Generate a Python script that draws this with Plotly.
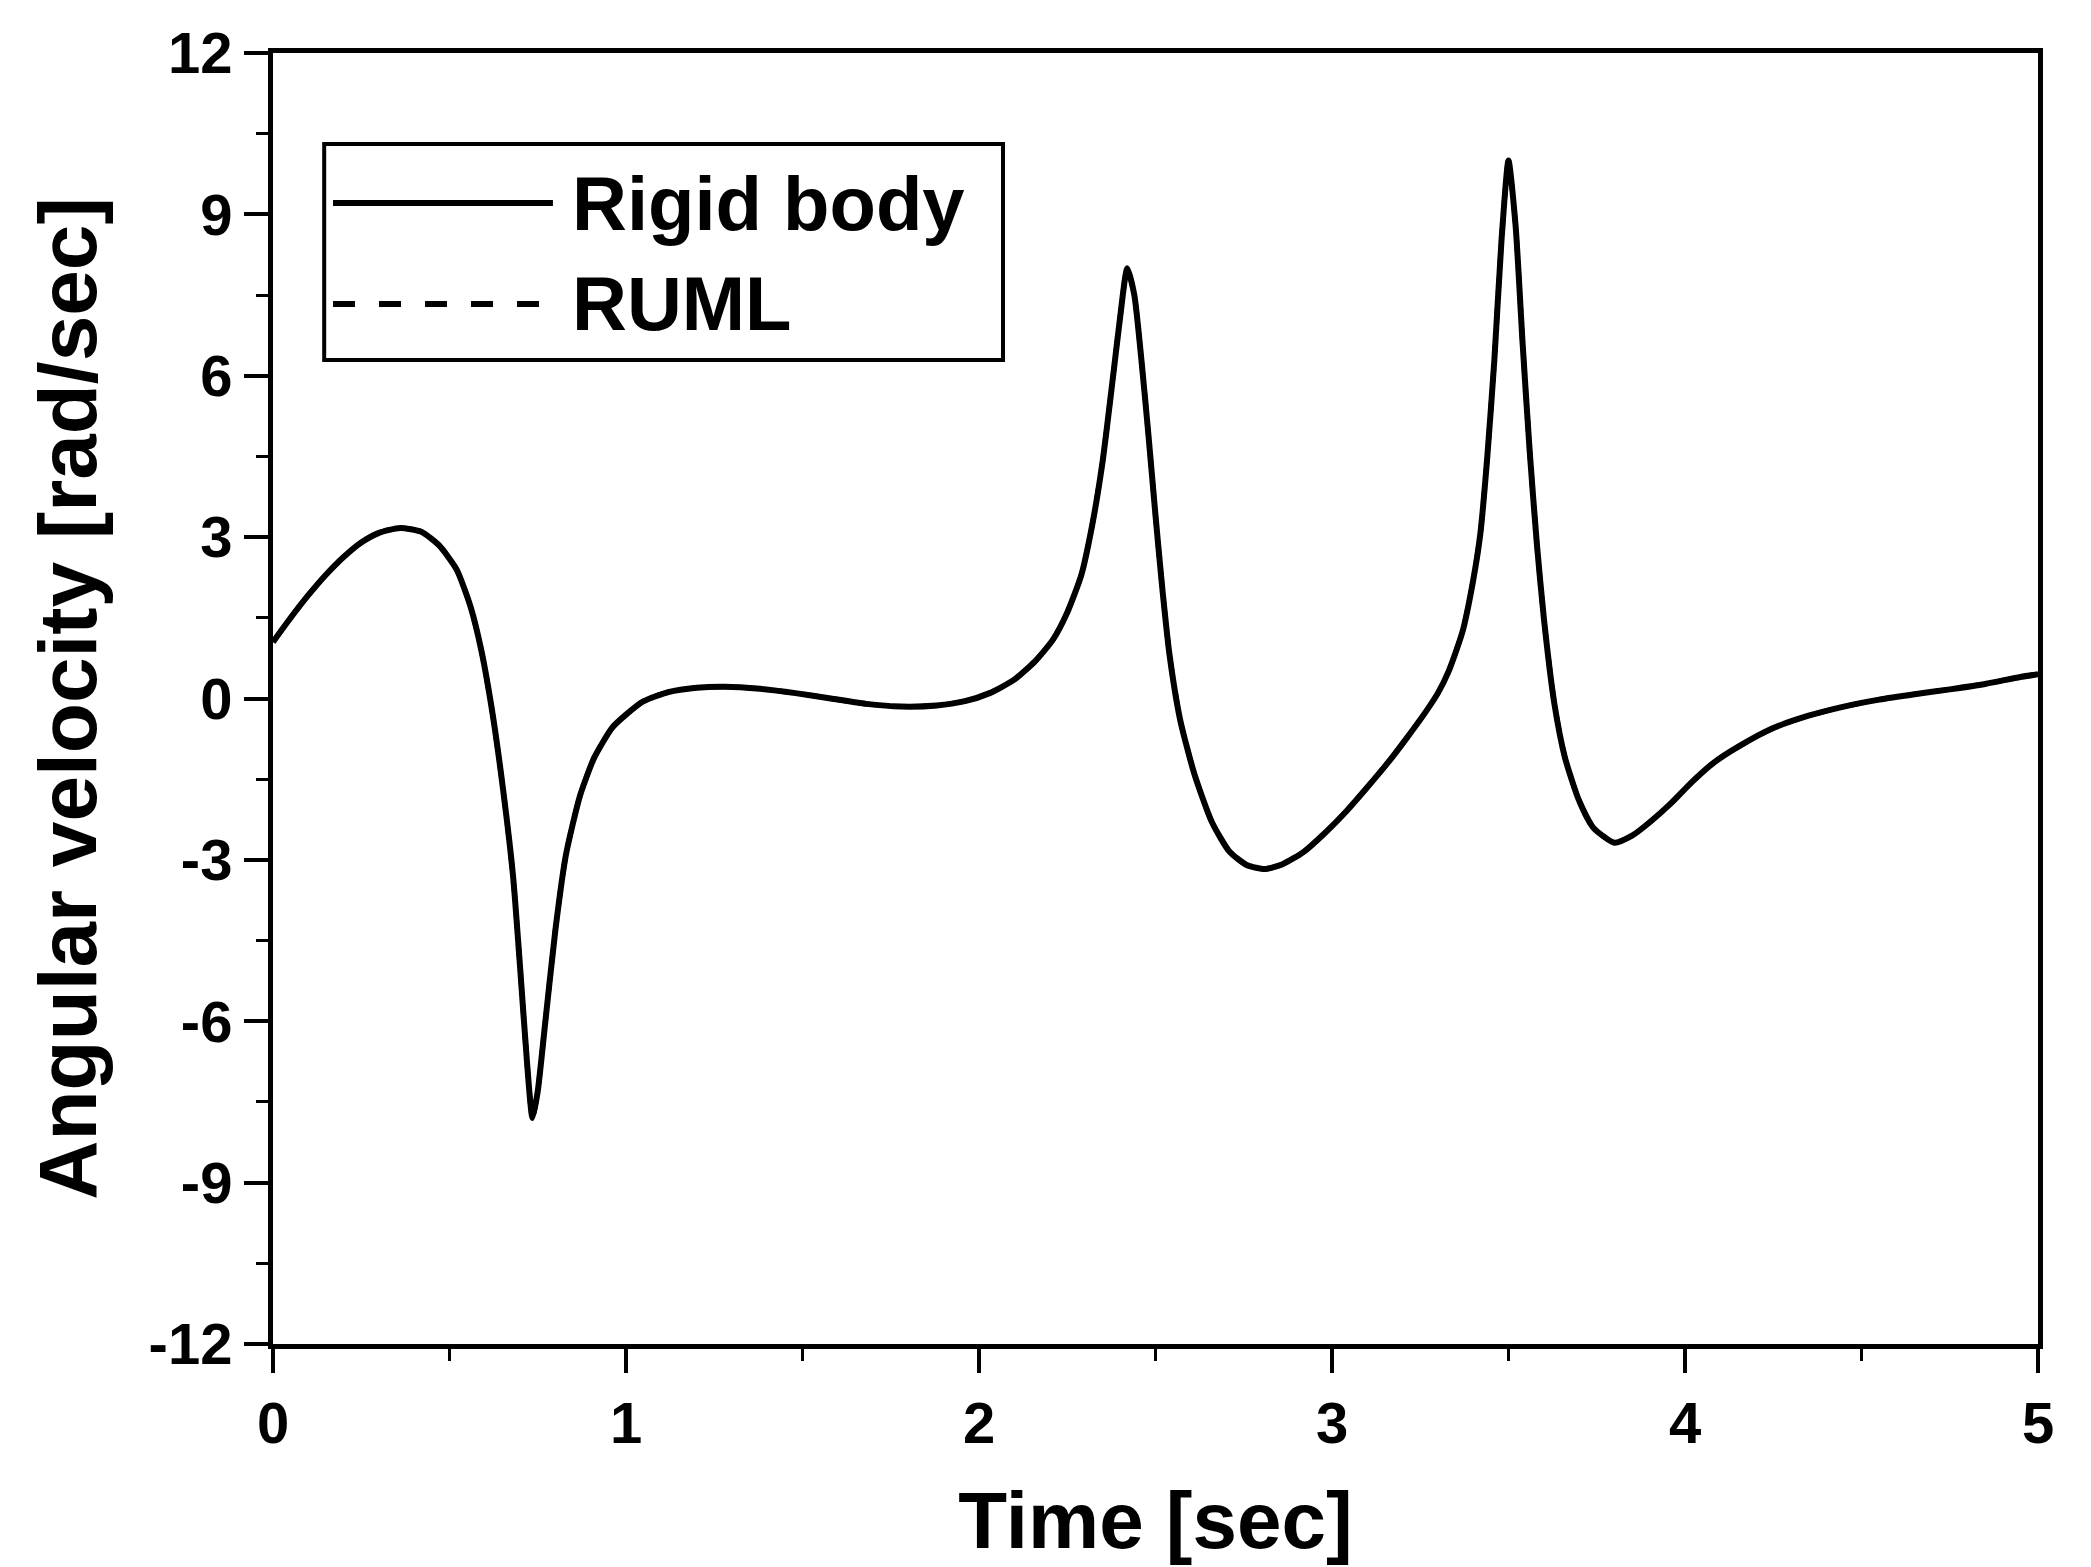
import plotly.graph_objects as go

# ---- data ----
time_s = [0.00, 0.05, 0.10, 0.15, 0.20, 0.25, 0.30, 0.36, 0.42, 0.47, 0.52, 0.56, 0.59, 0.62, 0.65,
          0.68, 0.70, 0.72, 0.735, 0.75, 0.77, 0.80, 0.83, 0.87, 0.91, 0.96, 1.00, 1.05, 1.12, 1.20,
          1.28, 1.38, 1.48, 1.58, 1.68, 1.78, 1.88, 1.96, 2.03, 2.10, 2.16, 2.21, 2.25, 2.29, 2.32,
          2.35, 2.38, 2.40, 2.42, 2.44, 2.46, 2.48, 2.50, 2.52, 2.54, 2.57, 2.61, 2.66, 2.71, 2.76,
          2.81, 2.86, 2.92, 2.98, 3.04, 3.10, 3.16, 3.21, 3.26, 3.30, 3.33, 3.37, 3.40, 3.42, 3.44,
          3.46, 3.48, 3.50, 3.52, 3.54, 3.56, 3.58, 3.60, 3.63, 3.66, 3.70, 3.74, 3.80, 3.85, 3.90,
          3.96, 4.02, 4.08, 4.15, 4.25, 4.35, 4.45, 4.55, 4.65, 4.75, 4.85, 4.95, 5.00]
rigid_body = [1.05, 1.50, 1.92, 2.30, 2.63, 2.90, 3.08, 3.17, 3.10, 2.85, 2.40, 1.70, 0.90, -0.20, -1.60,
              -3.30, -5.00, -6.80, -7.80, -7.30, -6.10, -4.30, -2.90, -1.80, -1.10, -0.55, -0.30, -0.05, 0.12, 0.20,
              0.22, 0.18, 0.10, 0.00, -0.10, -0.15, -0.13, -0.05, 0.10, 0.35, 0.70, 1.10, 1.60, 2.30, 3.20,
              4.40, 6.00, 7.10, 8.00, 7.50, 6.30, 4.90, 3.40, 2.00, 0.80, -0.40, -1.40, -2.30, -2.85, -3.10,
              -3.17, -3.08, -2.85, -2.50, -2.10, -1.65, -1.18, -0.75, -0.30, 0.10, 0.50, 1.25, 2.20, 3.05, 4.50,
              6.30, 8.50, 10.00, 8.80, 6.60, 4.60, 2.90, 1.50, -0.10, -1.10, -1.90, -2.40, -2.68, -2.55, -2.30,
              -1.95, -1.55, -1.20, -0.90, -0.55, -0.32, -0.15, -0.02, 0.08, 0.17, 0.27, 0.40, 0.45]
ruml = list(rigid_body)

series_names = ["Rigid body", "RUML"]
x_ticks = [0, 1, 2, 3, 4, 5]
y_ticks = [-12, -9, -6, -3, 0, 3, 6, 9, 12]

FONT = "Liberation Sans, Arial, Helvetica, sans-serif"

fig = go.Figure()
fig.add_trace(go.Scatter(x=time_s, y=rigid_body, mode="lines", name=series_names[0],
                         line=dict(color="black", width=6, shape="spline", smoothing=0.6),
                         showlegend=False))
fig.add_trace(go.Scatter(x=time_s, y=ruml, mode="lines", name=series_names[1],
                         line=dict(color="black", width=5, dash="dash", shape="spline", smoothing=0.6),
                         showlegend=False))

# custom legend (box, line samples, labels) in paper coordinates
fig.add_shape(type="rect", xref="paper", yref="paper", x0=0.029, x1=0.4136, y0=0.7622, y1=0.9295,
              line=dict(color="black", width=4), fillcolor="white", layer="above")
fig.add_shape(type="line", xref="paper", yref="paper", x0=0.034, x1=0.1586, y0=0.8838, y1=0.8838,
              line=dict(color="black", width=6))
fig.add_shape(type="line", xref="paper", yref="paper", x0=0.034, x1=0.1586, y0=0.8056, y1=0.8056,
              line=dict(color="black", width=6, dash="22px,24px"))
fig.add_annotation(xref="paper", yref="paper", x=0.168, y=0.8838, text=series_names[0],
                   showarrow=False, xanchor="left", yanchor="middle",
                   font=dict(family=FONT, size=76, color="black", weight="bold"))
fig.add_annotation(xref="paper", yref="paper", x=0.168, y=0.8056, text=series_names[1],
                   showarrow=False, xanchor="left", yanchor="middle",
                   font=dict(family=FONT, size=76, color="black", weight="bold"))

fig.update_layout(
    width=2091, height=1567,
    margin=dict(l=273, r=53, t=53, b=223),
    paper_bgcolor="white", plot_bgcolor="white",
    font=dict(family=FONT, color="black"),
)
fig.update_xaxes(
    range=[0, 5], tickvals=x_ticks, ticktext=[str(v) for v in x_ticks],
    showgrid=False, zeroline=False, showline=True, linecolor="black", linewidth=5, mirror=True,
    ticks="outside", ticklen=24, tickwidth=4, tickcolor="black",
    minor=dict(dtick=0.5, tick0=0, ticks="outside", ticklen=12, tickwidth=3, tickcolor="black"),
    tickfont=dict(family=FONT, size=58, color="black", weight="bold"),
    title=dict(text="Time [sec]", font=dict(family=FONT, size=80, color="black", weight="bold"), standoff=40),
)
fig.update_yaxes(
    range=[-12, 12], tickvals=y_ticks, ticktext=[str(v) for v in y_ticks],
    showgrid=False, zeroline=False, showline=True, linecolor="black", linewidth=5, mirror=True,
    ticks="outside", ticklen=24, tickwidth=4, tickcolor="black",
    minor=dict(dtick=1.5, tick0=0, ticks="outside", ticklen=12, tickwidth=3, tickcolor="black"),
    tickfont=dict(family=FONT, size=58, color="black", weight="bold"),
    title=dict(text="Angular velocity [rad/sec]", font=dict(family=FONT, size=82, color="black", weight="bold"), standoff=26),
)

fig.write_html("out.html")
